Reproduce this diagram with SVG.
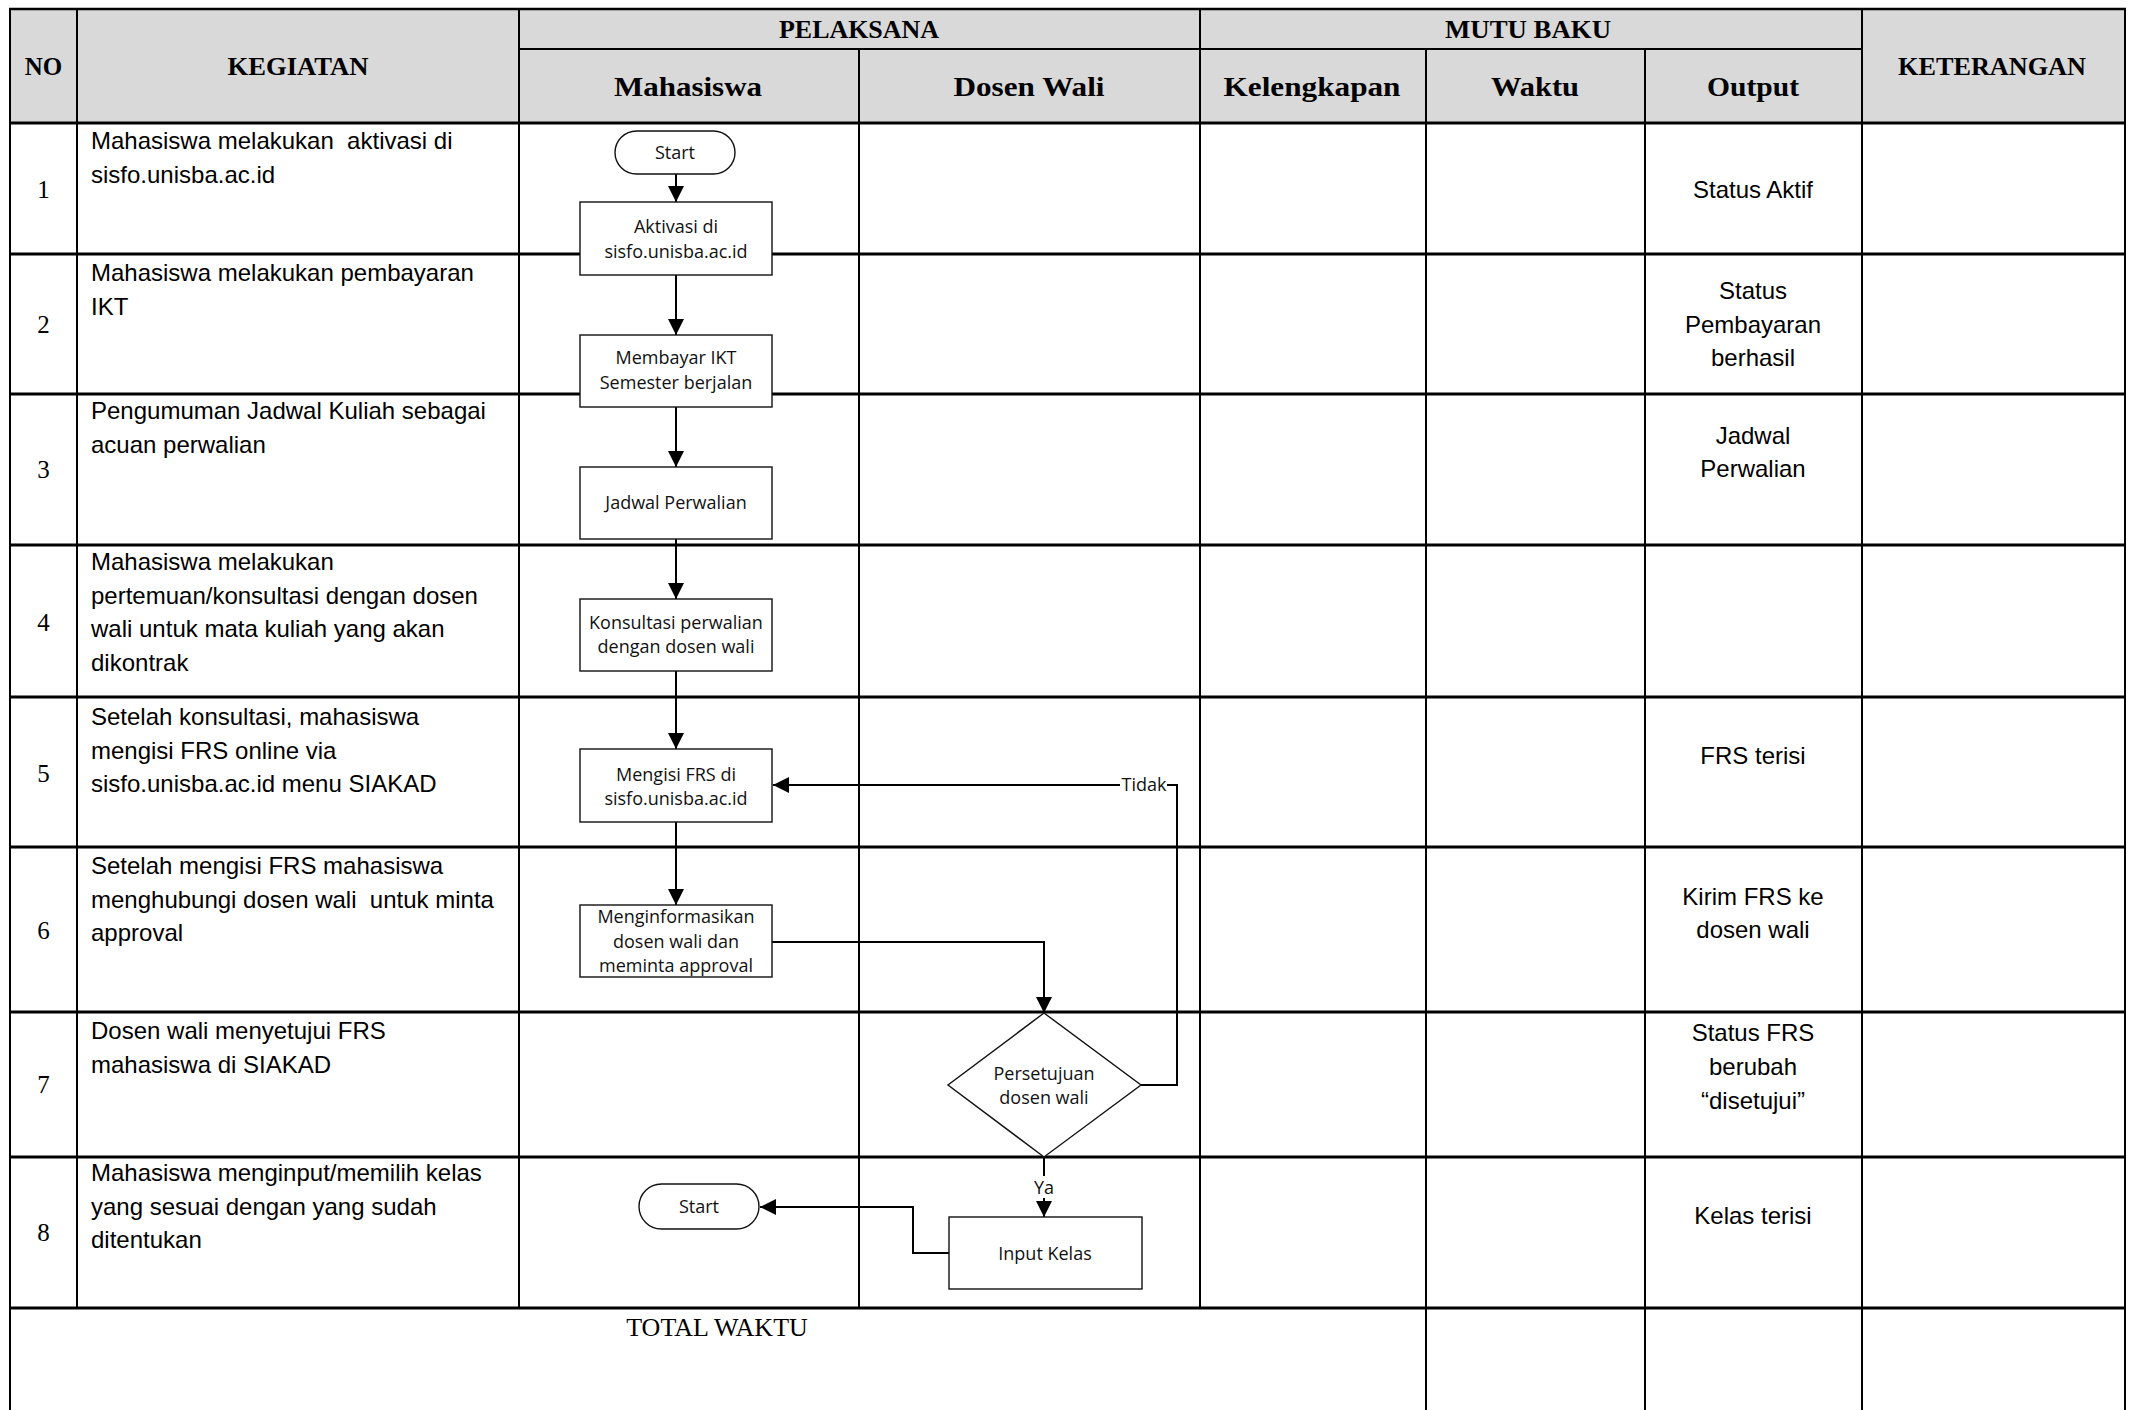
<svg xmlns="http://www.w3.org/2000/svg" width="2132" height="1410" viewBox="0 0 2132 1410">
<style>
.hd{font-family:"Liberation Serif","Times New Roman",serif;font-weight:bold;fill:#000;text-anchor:middle}
.hu{font-size:25px}
.hl{font-size:27px}
.num{font-family:"Liberation Serif","Times New Roman",serif;font-size:25px;fill:#000;text-anchor:middle}
.body{font-family:"Liberation Sans",Arial,sans-serif;font-size:24px;fill:#000}
.out{font-family:"Liberation Sans",Arial,sans-serif;font-size:24px;fill:#000;text-anchor:middle}
.fl{font-family:"Open Sans","Noto Sans",sans-serif;font-size:18px;fill:#111;text-anchor:middle}
.hline{stroke:#000;stroke-width:3.2}
.vline{stroke:#000;stroke-width:2}
.box{fill:#fff;stroke:#111;stroke-width:1.4}
.conn{fill:none;stroke:#000;stroke-width:2}
</style>
<defs>
<marker id="arr" markerUnits="userSpaceOnUse" markerWidth="18" markerHeight="17" refX="16" refY="8" orient="auto">
<path d="M0,0 L16,8 L0,16 z" fill="#000"/>
</marker>
</defs>
<rect x="0" y="0" width="2132" height="1410" fill="#fff"/>

<g id="table">
<rect x="10" y="9" width="2115" height="114" fill="#d9d9d9"/>
<g class="hline">
<line x1="9" y1="9" x2="2126" y2="9" stroke-width="2.5"/>
<line x1="519" y1="49" x2="1862" y2="49" stroke-width="2"/>
<line x1="9" y1="123" x2="2126" y2="123"/>
<line x1="9" y1="254" x2="2126" y2="254"/>
<line x1="9" y1="394" x2="2126" y2="394"/>
<line x1="9" y1="545" x2="2126" y2="545"/>
<line x1="9" y1="697" x2="2126" y2="697"/>
<line x1="9" y1="847" x2="2126" y2="847"/>
<line x1="9" y1="1012" x2="2126" y2="1012"/>
<line x1="9" y1="1157" x2="2126" y2="1157"/>
<line x1="9" y1="1308" x2="2126" y2="1308"/>
</g>
<g class="vline">
<line x1="10" y1="9" x2="10" y2="1410"/>
<line x1="77" y1="9" x2="77" y2="1308"/>
<line x1="519" y1="9" x2="519" y2="1308"/>
<line x1="859" y1="49" x2="859" y2="1308"/>
<line x1="1200" y1="9" x2="1200" y2="1308"/>
<line x1="1426" y1="49" x2="1426" y2="1410"/>
<line x1="1645" y1="49" x2="1645" y2="1410"/>
<line x1="1862" y1="9" x2="1862" y2="1410"/>
<line x1="2125" y1="9" x2="2125" y2="1410"/>
</g>
<text class="hd hu" x="43.5" y="75">NO</text>
<text class="hd hu" x="298" y="75" textLength="141" lengthAdjust="spacingAndGlyphs">KEGIATAN</text>
<text class="hd hu" x="859" y="38" textLength="160" lengthAdjust="spacingAndGlyphs">PELAKSANA</text>
<text class="hd hu" x="1528" y="38" textLength="166" lengthAdjust="spacingAndGlyphs">MUTU BAKU</text>
<text class="hd hl" x="688" y="96" textLength="148" lengthAdjust="spacingAndGlyphs">Mahasiswa</text>
<text class="hd hl" x="1029" y="96" textLength="151" lengthAdjust="spacingAndGlyphs">Dosen Wali</text>
<text class="hd hl" x="1312" y="96" textLength="177" lengthAdjust="spacingAndGlyphs">Kelengkapan</text>
<text class="hd hl" x="1535" y="96" textLength="88" lengthAdjust="spacingAndGlyphs">Waktu</text>
<text class="hd hl" x="1753" y="96" textLength="92" lengthAdjust="spacingAndGlyphs">Output</text>
<text class="hd hu" x="1992" y="75" textLength="188" lengthAdjust="spacingAndGlyphs">KETERANGAN</text>

<text class="num" x="43.5" y="198">1</text>
<text class="num" x="43.5" y="333">2</text>
<text class="num" x="43.5" y="478">3</text>
<text class="num" x="43.5" y="631">4</text>
<text class="num" x="43.5" y="782">5</text>
<text class="num" x="43.5" y="939">6</text>
<text class="num" x="43.5" y="1093">7</text>
<text class="num" x="43.5" y="1241">8</text>

<text class="body" x="91" y="149" xml:space="preserve">Mahasiswa melakukan  aktivasi di</text>
<text class="body" x="91" y="182.5">sisfo.unisba.ac.id</text>
<text class="body" x="91" y="281">Mahasiswa melakukan pembayaran</text>
<text class="body" x="91" y="314.5">IKT</text>
<text class="body" x="91" y="419">Pengumuman Jadwal Kuliah sebagai</text>
<text class="body" x="91" y="452.5">acuan perwalian</text>
<text class="body" x="91" y="570">Mahasiswa melakukan</text>
<text class="body" x="91" y="603.5">pertemuan/konsultasi dengan dosen</text>
<text class="body" x="91" y="637">wali untuk mata kuliah yang akan</text>
<text class="body" x="91" y="670.5">dikontrak</text>
<text class="body" x="91" y="725">Setelah konsultasi, mahasiswa</text>
<text class="body" x="91" y="758.5">mengisi FRS online via</text>
<text class="body" x="91" y="792">sisfo.unisba.ac.id menu SIAKAD</text>
<text class="body" x="91" y="874">Setelah mengisi FRS mahasiswa</text>
<text class="body" x="91" y="907.5" xml:space="preserve">menghubungi dosen wali  untuk minta</text>
<text class="body" x="91" y="941">approval</text>
<text class="body" x="91" y="1039">Dosen wali menyetujui FRS</text>
<text class="body" x="91" y="1072.5">mahasiswa di SIAKAD</text>
<text class="body" x="91" y="1181">Mahasiswa menginput/memilih kelas</text>
<text class="body" x="91" y="1214.5">yang sesuai dengan yang sudah</text>
<text class="body" x="91" y="1248">ditentukan</text>

<text class="out" x="1753" y="198">Status Aktif</text>
<text class="out" x="1753" y="299">Status</text>
<text class="out" x="1753" y="333">Pembayaran</text>
<text class="out" x="1753" y="366">berhasil</text>
<text class="out" x="1753" y="444">Jadwal</text>
<text class="out" x="1753" y="477">Perwalian</text>
<text class="out" x="1753" y="764">FRS terisi</text>
<text class="out" x="1753" y="905">Kirim FRS ke</text>
<text class="out" x="1753" y="938">dosen wali</text>
<text class="out" x="1753" y="1041">Status FRS</text>
<text class="out" x="1753" y="1075">berubah</text>
<text class="out" x="1753" y="1109">“disetujui”</text>
<text class="out" x="1753" y="1224">Kelas terisi</text>

<text x="717" y="1336" font-family="'Liberation Serif','Times New Roman',serif" font-size="26" text-anchor="middle" fill="#000">TOTAL WAKTU</text>
</g>

<g id="connectors">
<path class="conn" d="M676,174 V202" marker-end="url(#arr)"/>
<path class="conn" d="M676,275 V335" marker-end="url(#arr)"/>
<path class="conn" d="M676,407 V467" marker-end="url(#arr)"/>
<path class="conn" d="M676,539 V599" marker-end="url(#arr)"/>
<path class="conn" d="M676,671 V749" marker-end="url(#arr)"/>
<path class="conn" d="M676,822 V905" marker-end="url(#arr)"/>
<path class="conn" d="M772,942 H1044 V1013" marker-end="url(#arr)"/>
<path class="conn" d="M1141,1085 H1177 V785 H773" marker-end="url(#arr)"/>
<path class="conn" d="M1044,1157 V1217" marker-end="url(#arr)"/>
<path class="conn" d="M949,1253 H913 V1207 H760" marker-end="url(#arr)"/>
<rect x="1120" y="775" width="47" height="20" fill="#fff"/>
<text class="fl" x="1144" y="791">Tidak</text>
<rect x="1032" y="1176" width="24" height="22" fill="#fff"/>
<text class="fl" x="1044" y="1194">Ya</text>
</g>

<g id="start1">
<rect class="box" x="615" y="131" width="120" height="43" rx="21.5"/>
<text class="fl" x="675" y="159">Start</text>
</g>
<g id="aktivasi">
<rect class="box" x="580" y="202" width="192" height="73"/>
<text class="fl" x="676" y="233">Aktivasi di</text>
<text class="fl" x="676" y="258">sisfo.unisba.ac.id</text>
</g>
<g id="membayar">
<rect class="box" x="580" y="335" width="192" height="72"/>
<text class="fl" x="676" y="364">Membayar IKT</text>
<text class="fl" x="676" y="389">Semester berjalan</text>
</g>
<g id="jadwal">
<rect class="box" x="580" y="467" width="192" height="72"/>
<text class="fl" x="676" y="509">Jadwal Perwalian</text>
</g>
<g id="konsultasi">
<rect class="box" x="580" y="599" width="192" height="72"/>
<text class="fl" x="676" y="629">Konsultasi perwalian</text>
<text class="fl" x="676" y="653">dengan dosen wali</text>
</g>
<g id="mengisi">
<rect class="box" x="580" y="749" width="192" height="73"/>
<text class="fl" x="676" y="781">Mengisi FRS di</text>
<text class="fl" x="676" y="805">sisfo.unisba.ac.id</text>
</g>
<g id="menginformasikan">
<rect class="box" x="580" y="905" width="192" height="72"/>
<text class="fl" x="676" y="923">Menginformasikan</text>
<text class="fl" x="676" y="948">dosen wali dan</text>
<text class="fl" x="676" y="972">meminta approval</text>
</g>
<g id="persetujuan">
<polygon class="box" points="1044,1013 1141,1085 1044,1157 948,1085"/>
<text class="fl" x="1044" y="1080">Persetujuan</text>
<text class="fl" x="1044" y="1104">dosen wali</text>
</g>
<g id="inputkelas">
<rect class="box" x="949" y="1217" width="193" height="72"/>
<text class="fl" x="1045" y="1260">Input Kelas</text>
</g>
<g id="start2">
<rect class="box" x="639" y="1184" width="120" height="45" rx="22.5"/>
<text class="fl" x="699" y="1213">Start</text>
</g>
</svg>
